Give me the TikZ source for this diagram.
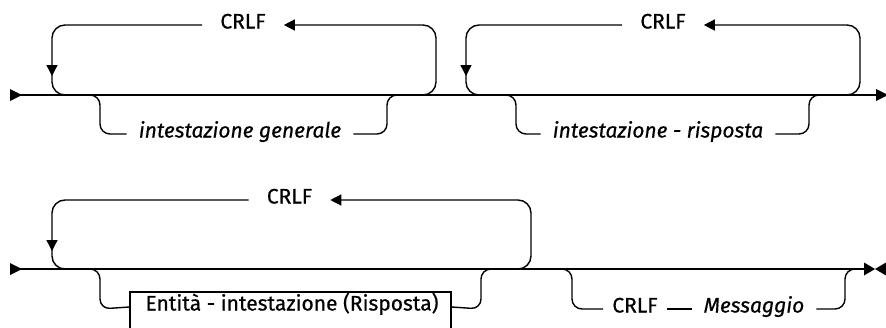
\documentclass[tikz,border=0pt]{standalone}
\usepackage{fontspec}
\setmainfont{Fira Sans}[FakeBold=0.6]
\usetikzlibrary{arrows.meta}
\begin{document}
\begin{tikzpicture}[x=1pt,y=-1pt,
  line/.style={line width=1.4pt},
  rail/.style={line, rounded corners=13pt},
  br/.style={line, rounded corners=10pt},
  tri/.style={-{Triangle[length=11pt,width=11pt]}},
  lblbase/.style={inner ysep=0pt, text height=0.95em, text depth=0.25em,
    font=\fontsize{21}{24}\selectfont},
  crlf/.style={lblbase, inner xsep=18pt},
  term/.style={lblbase, inner xsep=9pt},
  ital/.style={lblbase, inner xsep=12pt, font=\fontsize{21}{24}\selectfont\itshape},
  boxtxt/.style={lblbase, inner xsep=0pt},
  boxnode/.style={line, draw, minimum width=321pt, minimum height=42pt, inner sep=0pt},
  endmark/.style={fill=black}
]
\useasboundingbox (0,0) rectangle (886,327);
\clip (0,0) rectangle (886,327);

% ---------- row 1 ----------
\coordinate (r1s) at (20,95);
\coordinate (r1e) at (878,95);
\fill[endmark] (10,89) -- (22,95) -- (10,101) -- cycle;
\draw[line] (r1s) -- (r1e);
\fill[endmark] (876,89) -- (888,95) -- (876,101) -- cycle;

% loop 1
\node[crlf] (c1) at (243,25) {CRLF};
\draw[rail,tri] (420,95) -- (436,95) -- (436,25) -- (c1.east);
\draw[rail,tri] (c1.west) -- (52,25) -- (52,76);
\draw[rail] (52,70) -- (52,95) -- (70,95);

% branch 1
\node[ital] (g1) at (240,134) {intestazione generale};
\draw[br] (88,95) -- (100,95) -- (100,134) -- (g1.west);
\draw[br] (g1.east) -- (387,134) -- (387,95) -- (399,95);

% loop 2
\node[crlf] (c2) at (663,25) {CRLF};
\draw[rail,tri] (844,95) -- (860,95) -- (860,25) -- (c2.east);
\draw[rail,tri] (c2.west) -- (466,25) -- (466,76);
\draw[rail] (466,70) -- (466,95) -- (484,95);

% branch 2
\node[ital] (g2) at (658,134) {intestazione - risposta};
\draw[br] (504,95) -- (516,95) -- (516,134) -- (g2.west);
\draw[br] (g2.east) -- (809,134) -- (809,95) -- (821,95);

% ---------- row 2 ----------
\coordinate (r2s) at (20,269);
\coordinate (r2e) at (865,269);
\fill[endmark] (10,263) -- (22,269) -- (10,275) -- cycle;
\draw[line] (r2s) -- (r2e);
\fill[endmark] (864,262.5) -- (875,269) -- (864,275.5) -- cycle;
\fill[endmark] (886,262.5) -- (875,269) -- (886,275.5) -- cycle;

% loop 3
\node[crlf] (c3) at (289.5,200) {CRLF};
\draw[rail,tri] (515,269) -- (531,269) -- (531,200) -- (c3.east);
\draw[rail,tri] (c3.west) -- (52,200) -- (52,251);
\draw[rail] (52,245) -- (52,269) -- (70,269);

% branch 3
\node[boxnode] (e1) at (290.5,313) {};
\node[boxtxt] (e1t) at (292,307) {Entità - intestazione (Risposta)};
\draw[br] (88,269) -- (100,269) -- (100,309) -- (e1.west |- e1t.west);
\draw[br] (e1.east |- e1t.east) -- (481,309) -- (481,269) -- (493,269);

% branch 4
\node[term] (c4) at (635,309) {CRLF};
\node[ital] (m4) at (754,309) {Messaggio};
\draw[br] (560,269) -- (572,269) -- (572,309) -- (c4.west);
\draw[line] (c4.east) -- (m4.west);
\draw[br] (m4.east) -- (845,309) -- (845,269) -- (857,269);
\end{tikzpicture}
\end{document}
